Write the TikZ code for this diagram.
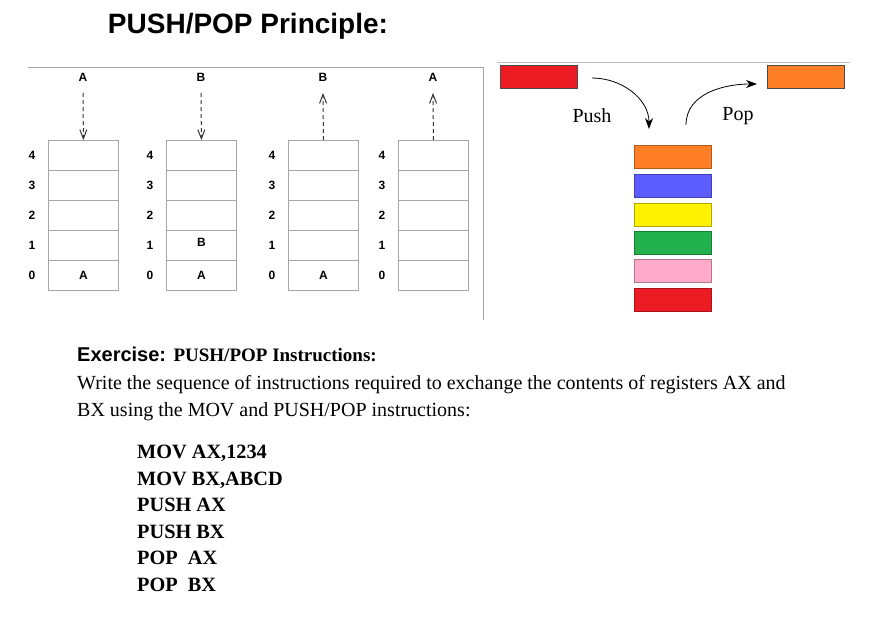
\documentclass[tikz,border=0pt]{standalone}
\usepackage{fontspec}
\setmainfont{Liberation Serif}
\setsansfont{Liberation Sans}
\usetikzlibrary{arrows.meta}
\definecolor{cred}{RGB}{237,28,36}
\definecolor{cora}{RGB}{255,127,39}
\definecolor{cblu}{RGB}{92,92,255}
\definecolor{cyel}{RGB}{255,242,0}
\definecolor{cgrn}{RGB}{34,177,76}
\definecolor{cpnk}{RGB}{255,170,200}
\begin{document}
\begin{tikzpicture}[x=1pt,y=-1pt,
  cell/.style={draw=gray!70,line width=0.8pt,minimum width=70pt,minimum height=30pt,inner sep=0,anchor=north west},
  num/.style={font=\sffamily\bfseries\fontsize{12}{14}\selectfont},
  blk/.style={draw=black!70,line width=0.6pt,minimum width=77pt,minimum height=23pt,inner sep=0,anchor=north west},
  dsh/.style={dashed,dash pattern=on 4pt off 3pt,line width=1pt,black!80},
  tip/.style={-{Straight Barb[open,length=9pt,width=7pt]}},
  body/.style={anchor=base west,font=\fontsize{20}{22}\selectfont,inner sep=0},
  code/.style={anchor=base west,font=\bfseries\fontsize{20.3}{22}\selectfont,inner sep=0}]
\useasboundingbox (0,0) rectangle (892,619);
\node[font=\sffamily\bfseries\fontsize{28}{32}\selectfont] (title) at (248,26) {PUSH/POP Principle:};
\coordinate (l1) at (28,67); \coordinate (l2) at (483,67); \coordinate (l3) at (483,320);
\draw[gray!70,line width=0.8pt] (l1) -- (l2) -- (l3);
\foreach \c/\x/\n/\lt in {1/48/32/A,2/166/150/B,3/288/272/B,4/398/382/A}{
  \foreach \r/\y in {4/140,3/170,2/200,1/230,0/260}{
    \node[cell] (c\c r\r) at (\x,\y) {};
    \node[num] (n\c r\r) at (\n,\y+15) {\r};
  }
  \node[num] (t\c) at (\x+35,77) {\lt};
  \coordinate (e\c) at (\x+35,93);
}
\node[num] at (c1r0) {A};
\node[num] at ([yshift=3pt]c2r1) {B};
\node[num] at (c2r0) {A};
\node[num] at (c3r0) {A};
\draw[dsh,tip] (e1) -- (c1r4.north);
\draw[dsh,tip] (e2) -- (c2r4.north);
\draw[dsh,tip] (c3r4.north) -- (e3);
\draw[dsh,tip] (c4r4.north) -- (e4);
% right panel
\coordinate (r1) at (497,62); \coordinate (r2) at (850,62);
\draw[gray!50,line width=0.8pt] (r1) -- (r2);
\node[blk,fill=cred] (inred) at (500,65) {};
\node[blk,fill=cora] (outor) at (767,65) {};
\foreach \i/\y/\col in {1/145/cora,2/174/cblu,3/203/cyel,4/231/cgrn,5/259/cpnk,6/288/cred}{
  \node[blk,fill=\col,draw=\col!70!black] (s\i) at (634,\y) {};
}
\coordinate (pa) at (592,78); \coordinate (pb) at (649,129);
\coordinate (qa) at (686,125); \coordinate (qb) at (757,84);
\draw[line width=0.8pt,-{Stealth[length=11pt,width=8pt]}] (pa) to[out=0,in=90] (pb);
\draw[line width=0.8pt,-{Stealth[length=11pt,width=8pt]}] (qa) to[out=90,in=180] (qb);
\node[font=\fontsize{20}{22}\selectfont] (push) at (592,116) {Push};
\node[font=\fontsize{20}{22}\selectfont] (pop) at (738,116) {Pop};
% exercise
\node[body] (ex) at (77,361) {\sffamily\bfseries\fontsize{20}{22}\selectfont Exercise: \rmfamily\fontsize{19}{22}\selectfont PUSH/POP Instructions:};
\node[body] (w1) at (77,389) {Write the sequence of instructions required to exchange the contents of registers AX and};
\node[body] (w2) at (77,416) {BX using the MOV and PUSH/POP instructions:};
\foreach \i/\y/\t in {1/458/{MOV AX,1234},2/485/{MOV BX,ABCD},3/511/{PUSH AX},4/538/{PUSH BX},5/564/{POP\ \ AX},6/591/{POP\ \ BX}}{
  \node[code] (k\i) at (137,\y) {\t};
}
\end{tikzpicture}
\end{document}
